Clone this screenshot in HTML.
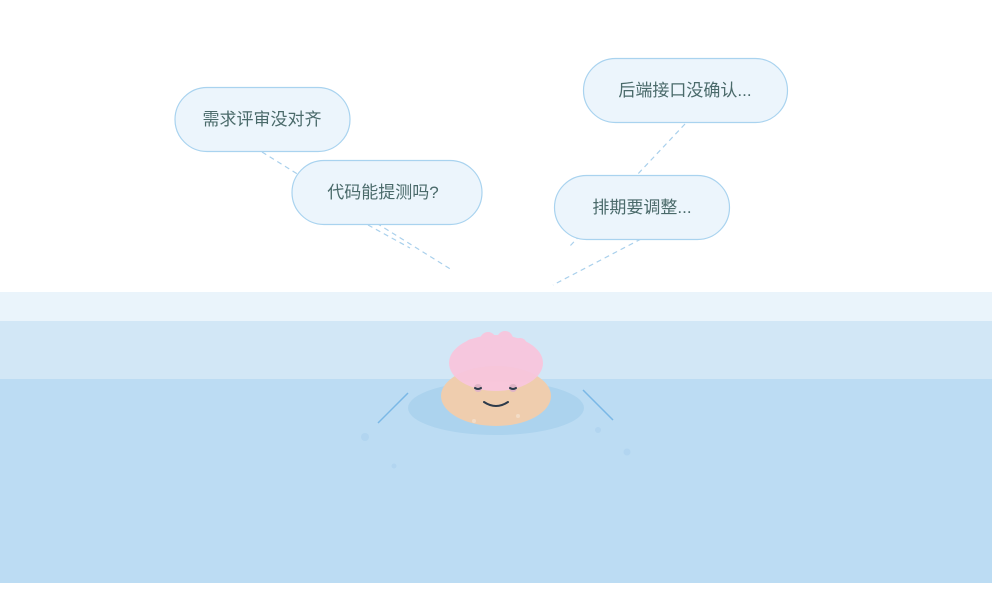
<!DOCTYPE html>
<html><head><meta charset="utf-8"><style>
html,body{margin:0;padding:0;background:#fff;}
svg{display:block}
text{font-family:"Liberation Sans","Noto Sans CJK SC",sans-serif;font-size:17px;fill:#4a6a6a;}
</style></head><body>
<svg width="992" height="598" viewBox="0 0 992 598" xmlns="http://www.w3.org/2000/svg">
<rect x="0" y="0" width="992" height="598" fill="#fff"/>
<rect x="0" y="292" width="992" height="29" fill="#eaf4fb"/>
<rect x="0" y="321" width="992" height="58" fill="#d2e7f6"/>
<rect x="0" y="379" width="992" height="204" fill="#bcdcf3"/>
<!-- connectors -->
<g stroke="#a9d0ec" stroke-width="1.2" stroke-dasharray="5,4" fill="none">
<line x1="262" y1="152" x2="452" y2="270"/>
<line x1="368" y1="225" x2="410" y2="248"/>
<line x1="685" y1="124" x2="570" y2="246"/>
<line x1="641" y1="239" x2="553" y2="285"/>
</g>
<!-- bubbles -->
<g fill="#ecf5fc" stroke="#a9d3ef" stroke-width="1.2">
<rect x="175" y="87.5" width="175" height="64" rx="32"/>
<rect x="292" y="160.5" width="190" height="64" rx="32"/>
<rect x="583.5" y="58.5" width="204" height="64" rx="32"/>
<rect x="554.5" y="175.5" width="175" height="64" rx="32"/>
</g>
<text x="262" y="125" text-anchor="middle">需求评审没对齐</text>
<text x="383" y="198" text-anchor="middle">代码能提测吗?</text>
<text x="685" y="96" text-anchor="middle">后端接口没确认...</text>
<text x="642" y="213" text-anchor="middle">排期要调整...</text>
<!-- ripple -->
<ellipse cx="496" cy="408" rx="88" ry="27" fill="#acd3ee"/>
<line x1="378" y1="423" x2="408" y2="393" stroke="#7ab8e6" stroke-width="1.5"/>
<line x1="583" y1="390" x2="613" y2="420" stroke="#7ab8e6" stroke-width="1.5"/>
<g fill="#b2d5f0">
<circle cx="365" cy="437" r="4"/><circle cx="394" cy="466" r="2.5"/>
<circle cx="598" cy="430" r="3"/><circle cx="627" cy="452" r="3.5"/>
</g>
<!-- face -->
<ellipse cx="496" cy="396" rx="55" ry="30" fill="#efcdae"/>
<g fill="#f8c6dd" opacity="0.95">
<ellipse cx="496" cy="363" rx="47" ry="28"/>
<circle cx="472" cy="346" r="7"/><circle cx="488" cy="340" r="8"/>
<circle cx="505" cy="339" r="8"/><circle cx="520" cy="345" r="7"/>
<circle cx="530" cy="352" r="6"/><circle cx="463" cy="354" r="6"/>
</g>
<circle cx="478" cy="388" r="4" fill="#e0b4c6"/>
<circle cx="513" cy="388" r="4" fill="#e0b4c6"/>
<path d="M475 388 q3 2 6 0" stroke="#2c3a4a" stroke-width="2" fill="none" stroke-linecap="round"/>
<path d="M510 388 q3 2 6 0" stroke="#2c3a4a" stroke-width="2" fill="none" stroke-linecap="round"/>
<path d="M484 402 q12 8 24 0" stroke="#2c3a4a" stroke-width="2" fill="none" stroke-linecap="round"/>
<circle cx="474" cy="421" r="2" fill="#f3dcc6"/><circle cx="518" cy="416" r="2" fill="#f3dcc6"/>
</svg>
</body></html>
